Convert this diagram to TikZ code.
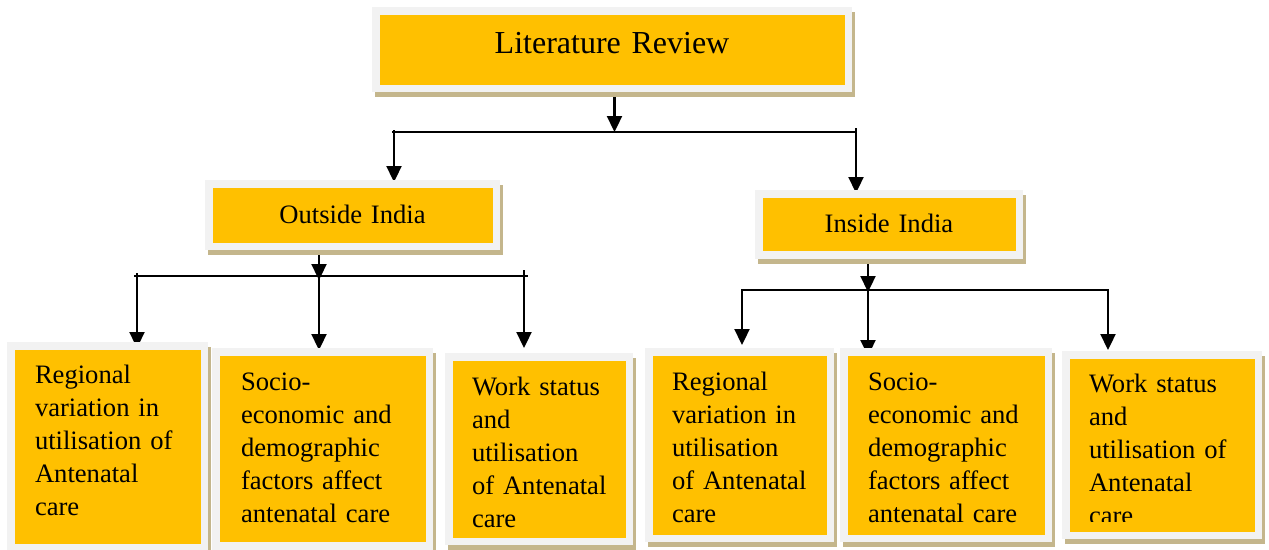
\documentclass[tikz,border=0pt]{standalone}
\usepackage{fontspec}
\setmainfont{Liberation Serif}
\usetikzlibrary{arrows.meta,backgrounds}
\definecolor{gold}{RGB}{255,192,0}
\definecolor{framegray}{RGB}{242,242,242}
\definecolor{shadowtan}{RGB}{196,182,140}
\begin{document}
\begin{tikzpicture}[x=1pt,y=-1pt,
  box/.style={fill=gold, draw=framegray, line width=7.5pt, inner ysep=0pt, outer sep=0pt,
    anchor=north west, align=left,
    font={\fontsize{26.6}{33}\selectfont\hyphenpenalty=10000\exhyphenpenalty=10000}},
  shadowbox/.style={fill=shadowtan},
  arr/.style={line width=2.3pt, -{Triangle[length=16pt,width=15pt]}},
  bus/.style={line width=2.3pt, line cap=rect}]
\useasboundingbox (0,0) rectangle (1269,549);

% boxes
\node[box, inner xsep=0pt, text width=472.5pt, align=center,
  text height=42.25pt, text depth=35.25pt, font=\fontsize{32}{38}\selectfont]
  (lit) at (375.75,10.75) {Literature Review};
\node[box, inner xsep=0pt, text width=287.5pt, align=center,
  text height=39.25pt, text depth=23.25pt] (out) at (208.75,183.75) {Outside India};
\node[box, inner xsep=0pt, text width=260.5pt, align=center,
  text height=38.25pt, text depth=22.75pt] (ins) at (758.75,193.75) {Inside India};

\node[box, inner xsep=24.25pt, text width=145pt, text height=37.25pt, text depth=164.25pt]
  (b1) at (10.75,345.75) {Regional\\variation~in\\utilisation~of\\Antenatal\\care};
\node[box, inner xsep=25.25pt, text width=163pt, text height=38.25pt, text depth=155.75pt]
  (b2) at (215.75,351.75) {Socio-\\economic~and\\demographic\\factors~affect\\antenatal~care};
\node[box, inner xsep=23.25pt, text width=134pt, text height=38.25pt, text depth=146.25pt]
  (b3) at (448.75,356.75) {Work~status\\and\\utilisation\\of~Antenatal\\care};
\node[box, inner xsep=23.25pt, text width=135pt, text height=38.25pt, text depth=148.25pt]
  (b4) at (648.75,351.75) {Regional\\variation~in\\utilisation\\of~Antenatal\\care};
\node[box, inner xsep=24.25pt, text width=156pt, text height=38.25pt, text depth=148.25pt]
  (b5) at (843.75,351.75) {Socio-\\economic~and\\demographic\\factors~affect\\antenatal~care};
\node[box, inner xsep=23.25pt, text width=146pt, text height=37.25pt, text depth=143.25pt]
  (b6) at (1065.75,354.75) {Work~status\\and\\utilisation~of\\Antenatal\\care};
% last line of the right box is cut off in the source
\fill[gold] (1069.5,521.5) rectangle (1254.5,531.5);

% connectors
\coordinate (j0) at (614.5,132);
\coordinate (t0L) at (394,132);
\coordinate (t0R) at (856,132);
\coordinate (o0L) at (137,276);
\coordinate (o0M) at (319,276);
\coordinate (o0R) at (524,276);
\coordinate (i0L) at (742,290);
\coordinate (i0M) at (868,290);
\coordinate (i0R) at (1108,290);

\begin{scope}[on background layer]
  \draw[arr] (lit.south -| j0) -- (j0);
  \draw[bus] ([xshift=-1pt]t0L) -- (t0R);
  \draw[arr, shorten >=1.75pt] ([yshift=2pt]t0L) -- (t0L |- out.north);
  \draw[arr, shorten >=0.75pt] ([yshift=4pt]t0R) -- (t0R |- ins.north);

  \draw[arr] (out.south -| o0M) -- ([yshift=-4pt]o0M);
  \draw[bus] ([xshift=-2pt]o0L) -- ([xshift=3pt]o0R);
  \draw[arr, shorten >=-2.25pt] ([yshift=3pt]o0L) -- (o0L |- b1.north);
  \draw[arr, shorten >=1.75pt] (o0M) -- (o0M |- b2.north);
  \draw[arr, shorten >=8.75pt] ([yshift=6pt]o0R) -- (o0R |- b3.north);

  \draw[arr] (ins.south -| i0M) -- ([yshift=-2pt]i0M);
  \draw[bus] (i0L) -- (i0R);
  \draw[arr, shorten >=6.75pt] (i0L) -- (i0L |- b4.north);
  \draw[arr, shorten >=-4.25pt] (i0M) -- (i0M |- b5.north);
  \draw[arr, shorten >=4.75pt] (i0R) -- (i0R |- b6.north);

  % drop shadows of the boxes
  \foreach \n in {lit,out,ins,b1,b2,b3,b4,b5,b6}
    \fill[shadowbox] ([shift={(-0.75,1.25)}]\n.north west)
      rectangle ([shift={(6.75,8.75)}]\n.south east);
\end{scope}
\end{tikzpicture}
\end{document}
